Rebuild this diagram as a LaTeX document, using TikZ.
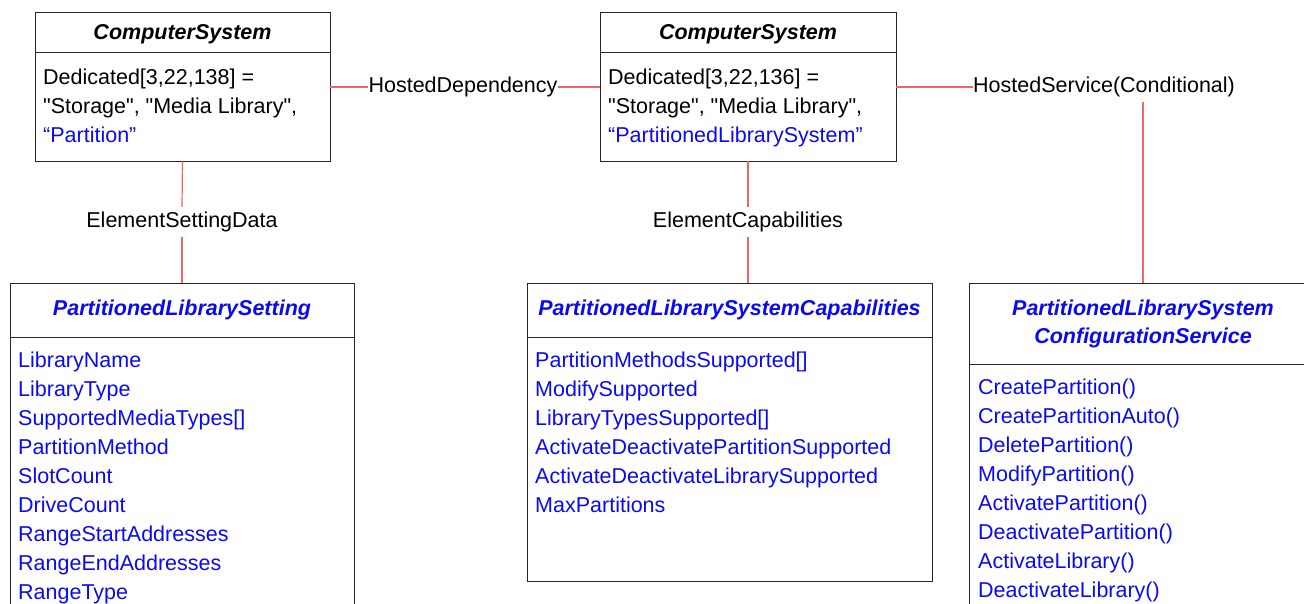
\documentclass[tikz,border=0pt]{standalone}
\usepackage{fontspec}
\setmainfont{Liberation Sans}
\usetikzlibrary{positioning}
\definecolor{assoc}{RGB}{240,100,100}
\definecolor{cimblue}{RGB}{10,10,240}

\begin{document}
\begin{tikzpicture}[
    x=1pt, y=-1pt,
    every node/.style={font=\fontsize{21.5}{29}\selectfont},
    head/.style={rectangle, draw=black!85, line width=0.9pt, anchor=north west, outer sep=0pt, inner sep=0pt, align=center, font=\fontsize{21.5}{28}\selectfont\bfseries\itshape},
    frame/.style={rectangle, draw=black!85, line width=0.9pt, outer sep=0pt, inner sep=0pt},
    attrs/.style={inner sep=0pt, align=left, text=cimblue},
    role/.style={inner xsep=0pt, inner ysep=5pt},
    link/.style={draw=assoc, line width=1.2pt}
]
\useasboundingbox (0,0) rectangle (1304,604);

% ComputerSystem (left)
\node[head, minimum width=295pt, minimum height=40pt, text depth=0pt] (cs1head) at (35,12) {ComputerSystem};
\node[frame, below=0pt of cs1head, minimum width=295pt, minimum height=109pt] (cs1body) {};
\node[attrs, text=black, below right=17pt and 8pt of cs1body.north west] (cs1attrs)
    {Dedicated[3,22,138] =\\\textquotedbl Storage\textquotedbl, \textquotedbl Media Library\textquotedbl,\\\textcolor{cimblue}{“Partition”}};

% ComputerSystem (middle)
\node[head, minimum width=296pt, minimum height=40pt, text depth=0pt] (cs2head) at (600,12) {ComputerSystem};
\node[frame, below=0pt of cs2head, minimum width=296pt, minimum height=109pt] (cs2body) {};
\node[attrs, text=black, below right=17pt and 8pt of cs2body.north west] (cs2attrs)
    {Dedicated[3,22,136] =\\\textquotedbl Storage\textquotedbl, \textquotedbl Media Library\textquotedbl,\\\textcolor{cimblue}{“PartitionedLibrarySystem”}};

% PartitionedLibrarySetting
\node[head, text=cimblue, minimum width=344pt, minimum height=54pt] (sethead) at (10,283) {PartitionedLibrarySetting};
\node[frame, below=0pt of sethead, minimum width=344pt, minimum height=300pt] (setbody) {};
\node[attrs, below right=15pt and 8pt of setbody.north west] (setattrs)
    {LibraryName\\LibraryType\\SupportedMediaTypes[]\\PartitionMethod\\SlotCount\\DriveCount\\RangeStartAddresses\\RangeEndAddresses\\RangeType};

% PartitionedLibrarySystemCapabilities
\node[head, text=cimblue, minimum width=405pt, minimum height=54pt] (capshead) at (527,283) {PartitionedLibrarySystemCapabilities};
\node[frame, below=0pt of capshead, minimum width=405pt, minimum height=244pt] (capsbody) {};
\node[attrs, below right=15pt and 8pt of capsbody.north west] (capsattrs)
    {PartitionMethodsSupported[]\\ModifySupported\\LibraryTypesSupported[]\\ActivateDeactivatePartitionSupported\\ActivateDeactivateLibrarySupported\\MaxPartitions};

% PartitionedLibrarySystemConfigurationService
\node[head, text=cimblue, minimum width=348pt, minimum height=81pt] (cfghead) at (969,283) {PartitionedLibrarySystem\\ConfigurationService};
\node[frame, below=0pt of cfghead, minimum width=348pt, minimum height=300pt] (cfgbody) {};
\node[attrs, below right=15pt and 9pt of cfgbody.north west] (cfgattrs)
    {CreatePartition()\\CreatePartitionAuto()\\DeletePartition()\\ModifyPartition()\\ActivatePartition()\\DeactivatePartition()\\ActivateLibrary()\\DeactivateLibrary()};

% Association labels
\node[role] (hdep) at (463,87) {HostedDependency};
\node[role, anchor=west] (hsvc) at (973,87) {HostedService(Conditional)};
\node[role] (esd) at (182,222) {ElementSettingData};
\node[role] (ecap) at (748,222) {ElementCapabilities};

% Associations
\draw[link] (hdep.west -| cs1body.east) -- (hdep.west);
\draw[link] (hdep.east) -- (hdep.east -| cs2body.west);
\draw[link] (hsvc.west -| cs2body.east) -- (hsvc.west);
\draw[link] (hsvc.south -| cfghead.north) -- (cfghead.north);
\draw[link] (cs1body.south) -- (esd.north);
\draw[link] (esd.south) -- (sethead.north);
\draw[link] (cs2body.south) -- (ecap.north);
\draw[link] (ecap.south) -- (ecap.south |- capshead.north);

\end{tikzpicture}
\end{document}
